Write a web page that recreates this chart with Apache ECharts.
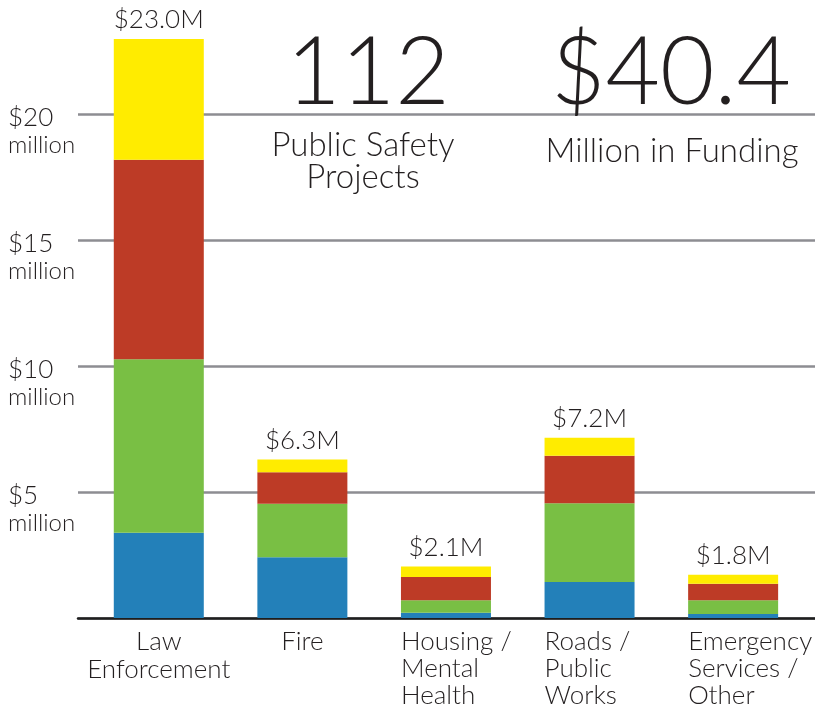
<!DOCTYPE html>
<html>
<head>
<meta charset="utf-8">
<script src="https://cdn.jsdelivr.net/npm/echarts@6/dist/echarts.min.js"></script>
<style>
html, body { margin: 0; padding: 0; background: #fff; }
#chart { width: 815px; height: 718px; }
</style>
</head>
<body>
<div id="chart"></div>
<script>
// categories and stacked values (millions)
var categories = ['Law\nEnforcement', 'Fire', 'Housing /\nMental\nHealth', 'Roads /\nPublic\nWorks', 'Emergency\nServices /\nOther'];
var blueVals = [3.39, 2.41, 0.21, 1.43, 0.16];
var greenVals = [6.89, 2.13, 0.50, 3.13, 0.55];
var redVals = [7.92, 1.25, 0.92, 1.88, 0.65];
var yellowVals = [4.80, 0.51, 0.42, 0.72, 0.36];
var totals = ['$23.0M', '$6.3M', '$2.1M', '$7.2M', '$1.8M'];
var yTicks = [5, 10, 15, 20];

var FONT = 'Lato';
var TXT = '#231f20';
var leftAligned = [2, 3, 4];   // category labels drawn flush with bar's left edge

var chart = echarts.init(document.getElementById('chart'));

function stackSeries(name, data, color) {
    return {
        name: name,
        type: 'bar',
        stack: 'total',
        xAxisIndex: 1,
        yAxisIndex: 1,
        barWidth: 90,
        data: data,
        itemStyle: { color: color },
        emphasis: { disabled: true }
    };
}

var series = [
    stackSeries('a', blueVals, '#2380b9'),
    stackSeries('b', greenVals, '#79bf44'),
    stackSeries('c', redVals, '#bd3b26'),
    stackSeries('d', yellowVals, '#ffec00')
];
series[3].label = {
    show: true,
    position: 'top',
    distance: 6,
    fontFamily: FONT,
    fontSize: 26,
    fontWeight: 300,
    color: TXT,
    formatter: function (p) { return totals[p.dataIndex]; }
};

var option = {
    animation: false,
    backgroundColor: '#fff',
    textStyle: { fontFamily: FONT, color: TXT },
    title: [
        { text: '112', left: 363, top: 22, textAlign: 'center',
          textStyle: { fontFamily: FONT, fontSize: 94, fontWeight: 300, color: TXT } },
        { text: '$40.4', left: 666, top: 22, textAlign: 'center',
          textStyle: { fontFamily: FONT, fontSize: 94, fontWeight: 300, color: TXT } },
        { text: 'Public Safety\nProjects', left: 358, top: 124, textAlign: 'center',
          textStyle: { fontFamily: FONT, fontSize: 33, lineHeight: 32, fontWeight: 300, color: TXT } },
        { text: 'Million in Funding', left: 667, top: 130, textAlign: 'center',
          textStyle: { fontFamily: FONT, fontSize: 33, fontWeight: 300, color: TXT } }
    ],
    grid: [
        { left: 78, right: 0, top: 114.5, bottom: 100 },
        { left: 87, right: 8, top: 13.8, bottom: 100 }
    ],
    xAxis: [
        {
            gridIndex: 0, type: 'category', data: categories,
            axisLine: { lineStyle: { color: '#1e1e1e', width: 2.5 } },
            axisTick: { show: false }, axisLabel: { show: false }, splitLine: { show: false }
        },
        {
            gridIndex: 1, type: 'category', data: categories,
            axisLine: { show: false }, axisTick: { show: false },
            axisLabel: {
                interval: 0,
                margin: 10,
                fontFamily: FONT,
                fontSize: 26,
                fontWeight: 300,
                lineHeight: 28,
                color: TXT,
                formatter: function (v, i) {
                    if (leftAligned.indexOf(i) < 0) return v;
                    return v.split('\n').map(function (s) { return '{l|' + s + '}'; }).join('\n');
                },
                rich: {
                    l: { align: 'left', fontFamily: FONT, fontSize: 26, fontWeight: 300, lineHeight: 27, color: TXT }
                },
                width: 90,
                overflow: 'none'
            }
        }
    ],
    yAxis: [
        {
            gridIndex: 0, type: 'value', min: 0, max: 20, interval: 5,
            axisLine: { show: false }, axisTick: { show: false },
            splitLine: { lineStyle: { color: '#8d8d92', width: 2.5 } },
            axisLabel: {
                align: 'left',
                margin: 70,
                padding: [34, 0, 0, 0],
                formatter: function (v) {
                    if (yTicks.indexOf(v) < 0) return '';
                    return '{a|$' + v + '}\n{b|million}';
                },
                rich: {
                    a: { fontFamily: FONT, fontSize: 26, fontWeight: 300, lineHeight: 28, color: TXT },
                    b: { fontFamily: FONT, fontSize: 24, fontWeight: 300, lineHeight: 28, color: TXT }
                }
            }
        },
        {
            gridIndex: 1, type: 'value', min: 0, max: 24,
            show: false, splitLine: { show: false }
        }
    ],
    series: series
};

chart.setOption(option);
</script>
</body>
</html>
